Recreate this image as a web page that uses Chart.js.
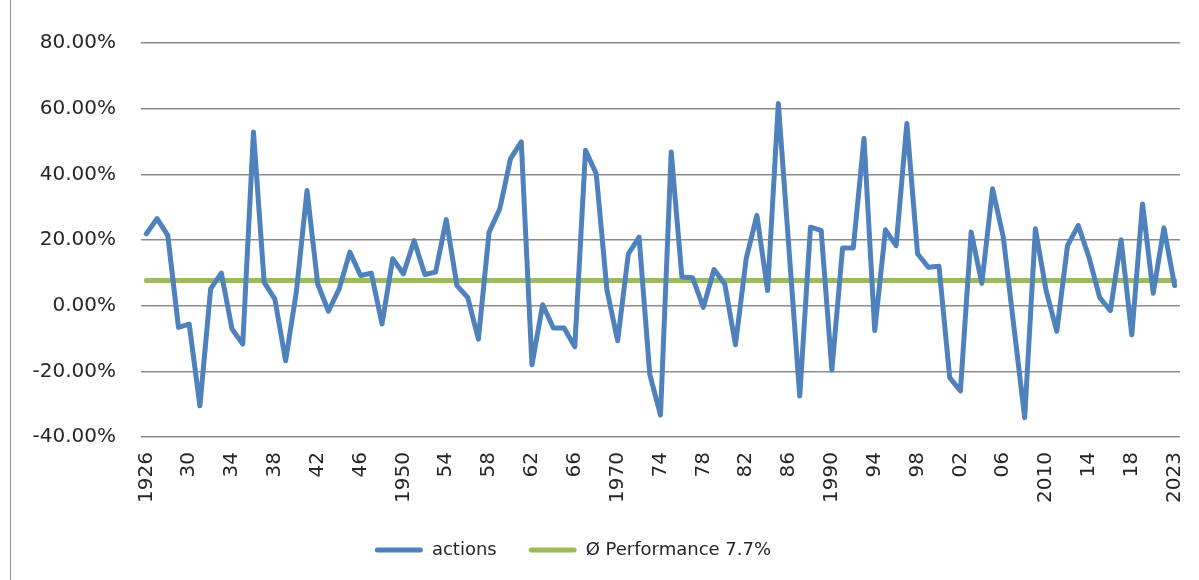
<!DOCTYPE html>
<html>
<head>
<meta charset="utf-8">
<script src="https://cdn.jsdelivr.net/npm/chart.js@4/dist/chart.umd.min.js"></script>
<style>
  html, body { margin: 0; padding: 0; background: #ffffff; }
  #wrap { position: relative; width: 1199px; height: 580px; overflow: hidden; }
  #frame { position: absolute; left: 10px; top: 0; width: 0; height: 580px; border-left: 1px solid #8c8c8c; }
  canvas { position: absolute; left: 0; top: 0; }
</style>
</head>
<body>
<div id="wrap">
  <canvas id="c" width="1199" height="580"></canvas>
  <div id="frame"></div>
</div>
<script>
// Tick labels shown every 4th category (as in the reference)
const tickLabels = ['1926','30','34','38','42','46','1950','54','58','62','66','1970','74',
  '78','82','86','1990','94','98','02','06','2010','14','18','2023'];

// Yearly performance of "actions" (%)
const actions = [
  21.9, 26.5, 21.4, -6.6, -5.6, -30.5, 5.1, 9.9, -7.1, -11.7,
  52.9, 7.1, 2.0, -16.8, 4.1, 35.1, 6.6, -1.7, 5.1, 16.3,
  9.2, 9.9, -5.6, 14.3, 9.7, 19.8, 9.5, 10.2, 26.2, 6.1,
  2.5, -10.2, 22.4, 29.5, 44.8, 49.9, -18.0, 0.3, -6.8, -6.8,
  -12.5, 47.3, 40.2, 4.8, -10.7, 15.8, 20.9, -20.9, -33.3, 46.8,
  8.7, 8.5, -0.5, 11.0, 6.6, -11.9, 14.3, 27.5, 4.6, 61.6,
  17.0, -27.5, 23.9, 22.9, -19.6, 17.6, 17.6, 50.9, -7.6, 23.1,
  18.3, 55.5, 15.8, 11.7, 12.0, -21.9, -26.0, 22.4, 6.8, 35.6,
  20.9, -6.6, -34.1, 23.4, 4.6, -7.8, 18.3, 24.4, 14.8, 2.5,
  -1.5, 20.1, -8.9, 31.0, 3.8, 23.7, 6.1
];

// Average performance (%)
const averagePerformance = 7.7;

const seriesNames = ['actions', '\u00D8 Performance 7.7%'];
const yTicks = { min: -40, max: 80, step: 20 };

const categories = actions.map((_, i) => (i % 4 === 0 ? tickLabels[i / 4] : ''));
const averageLine = actions.map(() => averagePerformance);

const FONT = "'DejaVu Sans', sans-serif";
const TEXT = '#262626';

// shift the legend slightly left, like the reference
const legendShift = {
  id: 'legendShift',
  afterLayout(chart) {
    const lg = chart.legend;
    if (lg) { lg.left -= 17; lg.right -= 17; }
  }
};

new Chart(document.getElementById('c'), {
  type: 'line',
  data: {
    labels: categories,
    datasets: [
      {
        label: seriesNames[0],
        data: actions,
        borderColor: '#4F81BD',
        backgroundColor: '#4F81BD',
        borderWidth: 5,
        pointRadius: 0,
        tension: 0,
        borderJoinStyle: 'round',
        borderCapStyle: 'round'
      },
      {
        label: seriesNames[1],
        data: averageLine,
        borderColor: '#9BBB59',
        backgroundColor: '#9BBB59',
        borderWidth: 5,
        pointRadius: 0,
        tension: 0,
        borderCapStyle: 'round'
      }
    ]
  },
  plugins: [legendShift],
  options: {
    responsive: false,
    animation: false,
    devicePixelRatio: 1,
    layout: { padding: { left: 0, right: 19, top: 43, bottom: 11 } },
    plugins: {
      tooltip: { enabled: false },
      legend: {
        position: 'bottom',
        labels: {
          boxWidth: 48,
          boxHeight: 5,
          padding: 32,
          color: TEXT,
          font: { family: FONT, size: 18 },
          useBorderRadius: true,
          borderRadius: 2.5,
          generateLabels: (chart) =>
            Chart.defaults.plugins.legend.labels.generateLabels(chart).map(l => ({
              ...l, lineWidth: 0, fillStyle: l.strokeStyle
            }))
        }
      }
    },
    scales: {
      x: {
        offset: true,
        grid: { display: false, drawTicks: false },
        border: { display: false },
        ticks: {
          autoSkip: false,
          maxRotation: 90,
          minRotation: 90,
          padding: 15,
          color: TEXT,
          font: { family: FONT, size: 20 },
          callback: (v, i) => categories[i]
        },
        afterFit: (s) => { s.height = 72; s.paddingLeft = 0; s.paddingRight = 0; }
      },
      y: {
        min: yTicks.min,
        max: yTicks.max,
        grid: { color: '#8c8c8c', lineWidth: 1.5, drawTicks: false },
        border: { display: false },
        ticks: {
          stepSize: yTicks.step,
          padding: 25,
          color: TEXT,
          font: { family: FONT, size: 20 },
          callback: (v) => v.toFixed(2) + '%'
        },
        afterFit: (s) => { s.width = 141; }
      }
    }
  }
});
</script>
</body>
</html>
